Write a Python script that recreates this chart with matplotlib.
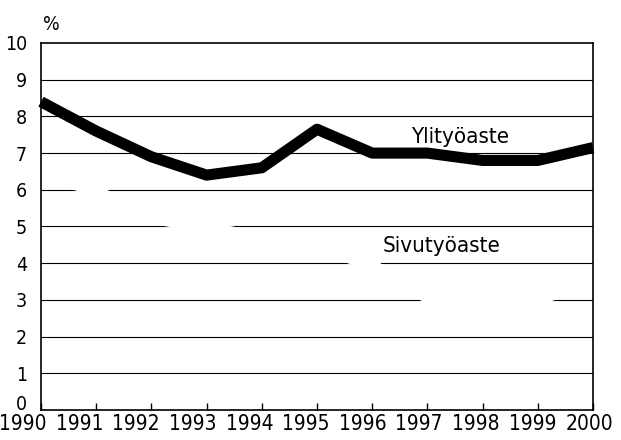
import matplotlib
matplotlib.use("Agg")
import matplotlib.pyplot as plt
from matplotlib import font_manager
from matplotlib.transforms import ScaledTranslation

#=============================Data=============================================
years = [1990, 1991, 1992, 1993, 1994, 1995, 1996, 1997, 1998, 1999, 2000]
ylityoaste = [8.4, 7.6, 6.9, 6.4, 6.6, 7.65, 7.0, 7.0, 6.8, 6.8, 7.15]
# drawn in white in the original, only visible as gaps in the gridlines
sivutyoaste = [6.4, 5.98, 5.22, 4.98, 4.7, 4.4, 3.96, 3.05, 3.0, 3.0, 3.5]
yticks = [0, 1, 2, 3, 4, 5, 6, 7, 8, 9, 10]
#==============================================================================

# look for a condensed sans face, the original uses one
narrow = None
for f in font_manager.fontManager.ttflist:
    condensed = (f.stretch in ('condensed', 'semi-condensed', 'extra-condensed')
                 or 'Narrow' in f.name or 'Condensed' in f.name)
    if condensed and f.style == 'normal' and f.weight in (400, 'normal', 'regular'):
        narrow = f
        break

if narrow is not None:
    fp = font_manager.FontProperties(fname=narrow.fname)
    scale = 1.0
else:
    fp = font_manager.FontProperties(family='Liberation Sans')
    scale = 0.8

fig = plt.figure(figsize=(6.21, 4.4), dpi=100)
ax = fig.add_axes([41 / 621, 1 - 410 / 440, 552 / 621, 367 / 440])

for v in yticks[1:-1]:
    ax.axhline(v, color='black', lw=0.8, zorder=1)

ax.plot(years, sivutyoaste, color='white', lw=8, zorder=2,
        solid_capstyle='butt', solid_joinstyle='round')
ax.plot(years, ylityoaste, color='black', lw=8, zorder=3,
        solid_capstyle='butt', solid_joinstyle='round', clip_on=False)

ax.set_xlim(1990, 2000)
ax.set_ylim(0, 10)
ax.set_xticks(years)
ax.set_xticklabels([str(y) for y in years], fontproperties=fp, fontsize=15 * scale)
ax.set_yticks(yticks)
ax.set_yticklabels([str(v) for v in yticks], fontproperties=fp, fontsize=14 * scale)
ax.tick_params(axis='x', direction='in', length=5, width=1, pad=3)
ax.tick_params(axis='y', length=0, pad=10)

# in the original the year labels sit left of their ticks
for i, lab in enumerate(ax.get_xticklabels()):
    dx = (-18 + 1.4 * i) / 100
    lab.set_transform(lab.get_transform() + ScaledTranslation(dx, 0, fig.dpi_scale_trans))
# and the bottom "0" sits a little above the axis line
zero = ax.get_yticklabels()[0]
zero.set_transform(zero.get_transform() + ScaledTranslation(0, 0.07, fig.dpi_scale_trans))

for s in ax.spines.values():
    s.set_linewidth(1.2)
    s.set_zorder(2.5)

ax.text(1997.6, 7.44, 'Ylityöaste', fontproperties=fp, fontsize=16 * scale,
        ha='center', va='center', zorder=4)
ax.text(1997.25, 4.47, 'Sivutyöaste', fontproperties=fp, fontsize=16 * scale,
        ha='center', va='center', zorder=4)
fig.text(51 / 621, 1 - 25 / 440, '%', fontproperties=fp, fontsize=14 * scale,
         ha='center', va='center')

fig.savefig('out.png', dpi=100)
